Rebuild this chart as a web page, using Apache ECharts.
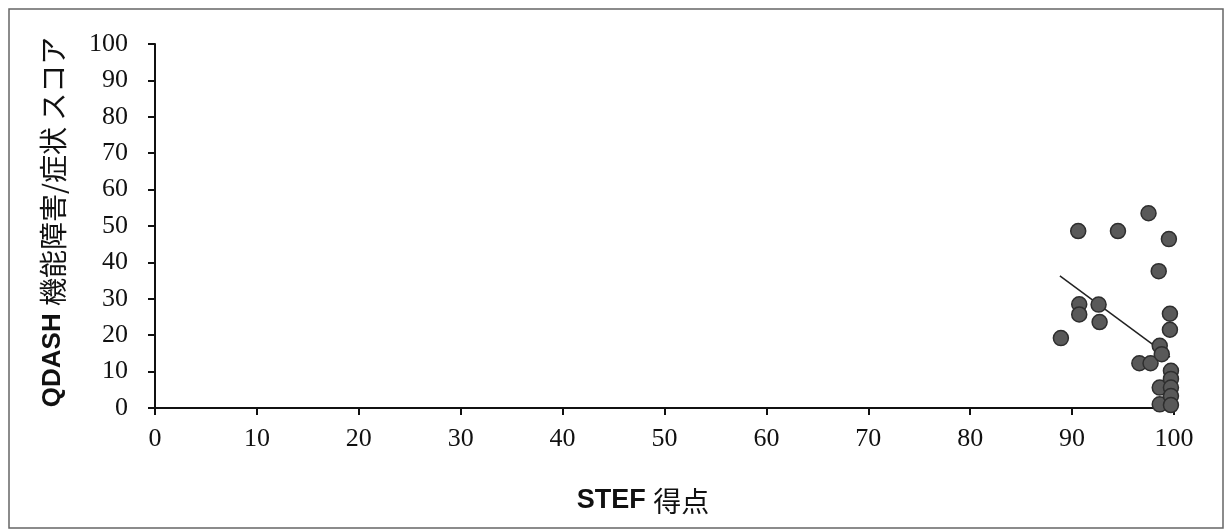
<!DOCTYPE html>
<html>
<head>
<meta charset="utf-8">
<script src="https://cdn.jsdelivr.net/npm/echarts@6/dist/echarts.min.js"></script>
<style>
html,body{margin:0;padding:0;background:#fff;}
#chart{width:1226px;height:529px;}
</style>
</head>
<body>
<div id="chart"></div>
<script>
// STEF score (x) and QDASH score (y) for each subject
const stefScores = [88.9, 90.6, 90.7, 90.7, 92.6, 92.7, 94.5, 96.6, 97.5, 97.7, 98.5, 98.6, 98.8, 98.6, 98.6, 99.5, 99.6, 99.6, 99.7, 99.7, 99.7, 99.7, 99.7];
const qdashScores = [19.2, 48.6, 28.5, 25.7, 28.4, 23.6, 48.6, 12.3, 53.5, 12.3, 37.6, 17.1, 14.8, 5.6, 1.0, 46.4, 25.9, 21.5, 10.2, 8.0, 5.6, 3.3, 0.8];
// trend line end points
const trendX = [88.8, 99.6];
const trendY = [36.3, 14.0];
const xTicks = [0, 10, 20, 30, 40, 50, 60, 70, 80, 90, 100];
const yTicks = [0, 10, 20, 30, 40, 50, 60, 70, 80, 90, 100];
const xTitleA = 'STEF ';
const xTitleB = '得点';
const yTitleA = 'QDASH ';
const yTitleB = '機能障害/症状 スコア';

const points = stefScores.map((x, i) => [x, qdashScores[i]]);
const trend = trendX.map((x, i) => [x, trendY[i]]);

const chart = echarts.init(document.getElementById('chart'), null, {renderer: 'canvas'});
const labelFont = {fontFamily: 'Liberation Serif', fontSize: 26, color: '#111'};
chart.setOption({
  animation: false,
  backgroundColor: '#fff',
  grid: {left: 155, right: 52, top: 44, bottom: 121},
  xAxis: {
    type: 'value', min: xTicks[0], max: xTicks[xTicks.length - 1], interval: 10,
    splitLine: {show: false},
    axisLine: {show: true, onZero: false, lineStyle: {color: '#111', width: 2}},
    axisTick: {show: true, length: 7, lineStyle: {color: '#111', width: 2}},
    axisLabel: Object.assign({margin: 18}, labelFont)
  },
  yAxis: {
    type: 'value', min: yTicks[0], max: yTicks[yTicks.length - 1], interval: 10,
    splitLine: {show: false},
    axisLine: {show: true, onZero: false, lineStyle: {color: '#111', width: 2}},
    axisTick: {show: true, length: 7, lineStyle: {color: '#111', width: 2}},
    axisLabel: Object.assign({margin: 27}, labelFont)
  },
  series: [
    {
      type: 'line', data: trend, symbol: 'none', silent: true, z: 3,
      lineStyle: {color: '#222', width: 1.5}
    },
    {
      type: 'scatter', data: points, symbol: 'circle', symbolSize: 15, clip: false, z: 4,
      itemStyle: {color: '#595959', borderColor: '#2e2e2e', borderWidth: 1.5, opacity: 1}
    }
  ],
  graphic: [
    {
      type: 'rect', silent: true, z: 0,
      shape: {x: 9, y: 9, width: 1214, height: 519},
      style: {fill: 'none', stroke: '#666', lineWidth: 1.5}
    },
    {
      type: 'text', x: 53, y: 222, rotation: Math.PI / 2, silent: true,
      style: {
        text: '{a|' + yTitleA + '}{b|' + yTitleB + '}',
        align: 'center', verticalAlign: 'middle',
        rich: {
          a: {fontFamily: 'Liberation Sans', fontWeight: 'bold', fontSize: 26, fill: '#111'},
          b: {fontFamily: 'Noto Sans CJK JP', fontSize: 28, fill: '#111'}
        }
      }
    },
    {
      type: 'text', x: 643, y: 501, silent: true,
      style: {
        text: '{a|' + xTitleA + '}{b|' + xTitleB + '}',
        align: 'center', verticalAlign: 'middle',
        rich: {
          a: {fontFamily: 'Liberation Sans', fontWeight: 'bold', fontSize: 27, fill: '#111'},
          b: {fontFamily: 'Noto Sans CJK JP', fontSize: 28, fill: '#111'}
        }
      }
    }
  ]
});
</script>
</body>
</html>
